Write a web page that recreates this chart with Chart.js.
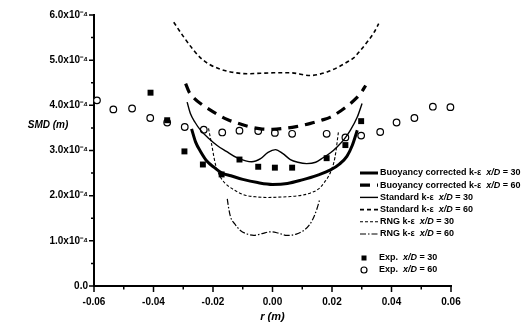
<!DOCTYPE html>
<html>
<head>
<meta charset="utf-8">
<script src="https://cdn.jsdelivr.net/npm/chart.js@4"></script>
<style>
  html, body { margin: 0; padding: 0; background: #fff; }
  #wrap { width: 523px; height: 330px; }
</style>
</head>
<body>
<div id="wrap"><canvas id="c" width="523" height="330"></canvas></div>
<script>
// Radial position r (m) and Sauter mean diameter SMD (m)

// Experiment, x/D = 30
const rExp30   = [-0.0410, -0.0354, -0.0296, -0.0234, -0.0171, -0.0111, -0.0048, 0.0008, 0.0066, 0.0182, 0.0245, 0.0298];
const smdExp30 = [4.28e-4, 3.67e-4, 2.98e-4, 2.69e-4, 2.47e-4, 2.80e-4, 2.64e-4, 2.62e-4, 2.62e-4, 2.83e-4, 3.12e-4, 3.65e-4];

// Experiment, x/D = 60
const rExp60   = [-0.0590, -0.0535, -0.0472, -0.0411, -0.0354, -0.0295, -0.0231, -0.0169, -0.0111, -0.0048, 0.0008, 0.0066, 0.0182, 0.0245, 0.0298, 0.0362, 0.0417, 0.0477, 0.0539, 0.0598];
const smdExp60 = [4.11e-4, 3.91e-4, 3.93e-4, 3.72e-4, 3.62e-4, 3.52e-4, 3.46e-4, 3.40e-4, 3.44e-4, 3.43e-4, 3.39e-4, 3.37e-4, 3.37e-4, 3.29e-4, 3.33e-4, 3.41e-4, 3.62e-4, 3.72e-4, 3.97e-4, 3.96e-4];

// Buoyancy corrected k-epsilon, x/D = 30
const rBuoy30   = [-0.0272, -0.0258, -0.0242, -0.0220, -0.0195, -0.0170, -0.0140, -0.0100, -0.0050, 0.0000, 0.0050, 0.0100, 0.0150, 0.0195, 0.0225, 0.0250, 0.0268, 0.0285];
const smdBuoy30 = [3.48e-4, 3.18e-4, 2.98e-4, 2.76e-4, 2.62e-4, 2.50e-4, 2.44e-4, 2.36e-4, 2.29e-4, 2.25e-4, 2.27e-4, 2.35e-4, 2.45e-4, 2.57e-4, 2.70e-4, 2.87e-4, 3.11e-4, 3.45e-4];

// Buoyancy corrected k-epsilon, x/D = 60
const rBuoy60   = [-0.0292, -0.0280, -0.0262, -0.0242, -0.0210, -0.0180, -0.0150, -0.0119, -0.0080, -0.0040, 0.0000, 0.0040, 0.0080, 0.0128, 0.0165, 0.0195, 0.0230, 0.0262, 0.0285, 0.0300, 0.0313];
const smdBuoy60 = [4.48e-4, 4.29e-4, 4.15e-4, 4.04e-4, 3.90e-4, 3.78e-4, 3.68e-4, 3.61e-4, 3.53e-4, 3.48e-4, 3.47e-4, 3.49e-4, 3.53e-4, 3.60e-4, 3.67e-4, 3.74e-4, 3.88e-4, 4.04e-4, 4.18e-4, 4.30e-4, 4.44e-4];

// Standard k-epsilon, x/D = 30
const rStd30   = [-0.0287, -0.0276, -0.0260, -0.0242, -0.0215, -0.0186, -0.0155, -0.0120, -0.0090, -0.0070, -0.0040, -0.0015, 0.0010, 0.0035, 0.0060, 0.0085, 0.0115, 0.0145, 0.0170, 0.0195, 0.0217, 0.0240, 0.0262, 0.0285, 0.0301];
const smdStd30 = [4.07e-4, 3.82e-4, 3.62e-4, 3.45e-4, 3.27e-4, 3.11e-4, 2.98e-4, 2.84e-4, 2.77e-4, 2.75e-4, 2.82e-4, 2.96e-4, 3.02e-4, 2.93e-4, 2.80e-4, 2.74e-4, 2.71e-4, 2.74e-4, 2.84e-4, 2.95e-4, 3.08e-4, 3.24e-4, 3.45e-4, 3.74e-4, 4.04e-4];

// Standard k-epsilon, x/D = 60
const rStd60   = [-0.0332, -0.0298, -0.0265, -0.0240, -0.0210, -0.0175, -0.0141, -0.0085, -0.0040, 0.0004, 0.0060, 0.0128, 0.0184, 0.0225, 0.0251, 0.0273, 0.0296, 0.0318, 0.0340, 0.0357];
const smdStd60 = [5.84e-4, 5.51e-4, 5.22e-4, 5.04e-4, 4.90e-4, 4.80e-4, 4.74e-4, 4.70e-4, 4.71e-4, 4.72e-4, 4.72e-4, 4.66e-4, 4.74e-4, 4.86e-4, 4.96e-4, 5.05e-4, 5.22e-4, 5.40e-4, 5.60e-4, 5.81e-4];

// RNG k-epsilon, x/D = 30
const rRng30   = [-0.0215, -0.0205, -0.0192, -0.0178, -0.0160, -0.0130, -0.0097, -0.0050, -0.0017, 0.0030, 0.0060, 0.0100, 0.0128, 0.0155, 0.0175, 0.0195, 0.0210, 0.0222];
const smdRng30 = [3.49e-4, 3.15e-4, 2.70e-4, 2.45e-4, 2.28e-4, 2.13e-4, 2.02e-4, 1.97e-4, 1.96e-4, 1.97e-4, 1.98e-4, 2.01e-4, 2.06e-4, 2.15e-4, 2.30e-4, 2.52e-4, 2.85e-4, 3.43e-4];

// RNG k-epsilon, x/D = 60
const rRng60   = [-0.0152, -0.0148, -0.0141, -0.0125, -0.0108, -0.0085, -0.0063, -0.0035, -0.0007, 0.0020, 0.0049, 0.0080, 0.0105, 0.0125, 0.0139, 0.0150, 0.0158];
const smdRng60 = [1.93e-4, 1.75e-4, 1.53e-4, 1.36e-4, 1.23e-4, 1.15e-4, 1.12e-4, 1.16e-4, 1.20e-4, 1.17e-4, 1.12e-4, 1.15e-4, 1.23e-4, 1.36e-4, 1.53e-4, 1.72e-4, 1.90e-4];

// Axis ticks
const rTicks   = [-0.06, -0.04, -0.02, 0.00, 0.02, 0.04, 0.06];
const smdTicks = [0, 1e-4, 2e-4, 3e-4, 4e-4, 5e-4, 6e-4];

const FONT = "'Liberation Sans', Arial, sans-serif";
const pts = (xs, ys) => xs.map((x, i) => ({ x: x, y: ys[i] }));

function curve(label, xs, ys, width, dash) {
  return {
    label: label,
    data: pts(xs, ys),
    showLine: true,
    borderColor: '#000',
    backgroundColor: '#000',
    borderWidth: width,
    borderDash: dash,
    pointRadius: 0,
    pointHoverRadius: 0,
    cubicInterpolationMode: 'monotone',
    fill: false
  };
}

const datasets = [
  curve('Buoyancy corrected k-\u03b5  x/D = 30', rBuoy30, smdBuoy30, 3, []),
  curve('Buoyancy corrected k-\u03b5  x/D = 60', rBuoy60, smdBuoy60, 3.2, [10, 7]),
  curve('Standard k-\u03b5  x/D = 30', rStd30, smdStd30, 1.4, []),
  curve('Standard k-\u03b5  x/D = 60', rStd60, smdStd60, 1.6, [4, 3]),
  curve('RNG k-\u03b5  x/D = 30', rRng30, smdRng30, 1.1, [3, 2]),
  curve('RNG k-\u03b5  x/D = 60', rRng60, smdRng60, 1.2, [6, 2, 1.5, 2]),
  {
    label: 'Exp.  x/D = 30',
    data: pts(rExp30, smdExp30),
    pointStyle: 'rect',
    pointRadius: 4.2,
    backgroundColor: '#000',
    borderColor: '#000',
    borderWidth: 0,
    clip: false
  },
  {
    label: 'Exp.  x/D = 60',
    data: pts(rExp60, smdExp60),
    pointStyle: 'circle',
    pointRadius: 3.3,
    backgroundColor: '#fff',
    borderColor: '#000',
    borderWidth: 1.2,
    clip: false
  }
];

// Draws a label with the "x/D" part set in italics
function drawMixedLabel(ctx, text, x, y, size) {
  const parts = text.split('x/D');
  ctx.textBaseline = 'middle';
  ctx.textAlign = 'left';
  ctx.font = 'bold ' + size + 'px ' + FONT;
  ctx.fillText(parts[0], x, y);
  x += ctx.measureText(parts[0]).width;
  if (parts.length > 1) {
    ctx.font = 'italic bold ' + size + 'px ' + FONT;
    ctx.fillText('x/D', x, y);
    x += ctx.measureText('x/D').width;
    ctx.font = 'bold ' + size + 'px ' + FONT;
    ctx.fillText(parts[1], x, y);
  }
}

const decor = {
  id: 'decor',
  afterDraw(chart) {
    const ctx = chart.ctx;
    const xs = chart.scales.x, ys = chart.scales.y;
    const area = chart.chartArea;
    ctx.save();
    ctx.strokeStyle = '#000';
    ctx.fillStyle = '#000';
    ctx.setLineDash([]);

    // tick marks: major on tick values, minor halfway between
    ctx.lineWidth = 1.5;
    ctx.beginPath();
    for (let i = 0; i < rTicks.length; i++) {
      const px = xs.getPixelForValue(rTicks[i]);
      ctx.moveTo(px, area.bottom); ctx.lineTo(px, area.bottom + 6);
      if (i < rTicks.length - 1) {
        const pm = xs.getPixelForValue((rTicks[i] + rTicks[i + 1]) / 2);
        ctx.moveTo(pm, area.bottom); ctx.lineTo(pm, area.bottom + 3.5);
      }
    }
    for (let i = 0; i < smdTicks.length; i++) {
      const py = ys.getPixelForValue(smdTicks[i]);
      ctx.moveTo(area.left, py); ctx.lineTo(area.left - 5, py);
      if (i < smdTicks.length - 1) {
        const pm = ys.getPixelForValue((smdTicks[i] + smdTicks[i + 1]) / 2);
        ctx.moveTo(area.left, pm); ctx.lineTo(area.left - 3, pm);
      }
    }
    ctx.stroke();

    // y axis title, written horizontally
    ctx.font = 'italic bold 10px ' + FONT;
    ctx.textAlign = 'center';
    ctx.textBaseline = 'middle';
    ctx.fillText('SMD (m)', 48, ys.getPixelForValue(3.55e-4));

    // legend
    const lineX0 = 360, lineX1 = 378, textX = 380;
    let y = 173;
    chart.data.datasets.forEach((ds, i) => {
      if (ds.showLine) {
        ctx.lineWidth = ds.borderWidth;
        ctx.setLineDash(ds.borderDash || []);
        ctx.beginPath();
        ctx.moveTo(lineX0, y); ctx.lineTo(lineX1, y);
        ctx.stroke();
        ctx.setLineDash([]);
        drawMixedLabel(ctx, ds.label, textX, y, 9);
        y += 12.2;
      }
    });
    y = 258;
    chart.data.datasets.forEach((ds) => {
      if (!ds.showLine) {
        ctx.lineWidth = ds.borderWidth;
        if (ds.pointStyle === 'rect') {
          ctx.fillRect(364 - 2.5, y - 2.5, 5, 5);
        } else {
          ctx.beginPath();
          ctx.arc(364, y, 3, 0, Math.PI * 2);
          ctx.fillStyle = '#fff'; ctx.fill();
          ctx.fillStyle = '#000'; ctx.stroke();
        }
        drawMixedLabel(ctx, ds.label, 379, y, 9);
        y += 12;
      }
    });
    ctx.restore();
  }
};

new Chart(document.getElementById('c'), {
  type: 'scatter',
  data: { datasets: datasets },
  plugins: [decor],
  options: {
    responsive: false,
    animation: false,
    devicePixelRatio: 1,
    layout: { padding: { top: 15, right: 72, left: 0, bottom: 0 } },
    plugins: {
      legend: { display: false },
      tooltip: { enabled: false }
    },
    scales: {
      x: {
        type: 'linear',
        min: -0.06,
        max: 0.06,
        afterBuildTicks: (s) => { s.ticks = rTicks.map(v => ({ value: v })); },
        afterFit: (s) => { s.height = 44; },
        grid: { display: false, drawTicks: false },
        border: { display: true, color: '#000', width: 2 },
        ticks: {
          color: '#000',
          padding: 10,
          maxRotation: 0,
          font: { family: FONT, size: 10, weight: 'bold' },
          callback: (v) => Number(v).toFixed(2)
        },
        title: {
          display: true,
          text: 'r (m)',
          color: '#000',
          padding: { top: 0, bottom: 6 },
          font: { family: FONT, size: 11, weight: 'bold', style: 'italic' }
        }
      },
      y: {
        type: 'linear',
        min: 0,
        max: 6e-4,
        afterBuildTicks: (s) => { s.ticks = smdTicks.map(v => ({ value: v })); },
        afterFit: (s) => { s.width = 94; },
        grid: { display: false, drawTicks: false },
        border: { display: true, color: '#000', width: 2 },
        ticks: {
          color: '#000',
          padding: 6,
          font: { family: FONT, size: 10, weight: 'bold' },
          callback: (v) => v === 0 ? '0.0' : (v * 1e4).toFixed(1) + 'x10\u207b\u2074'
        }
      }
    }
  }
});
</script>
</body>
</html>
